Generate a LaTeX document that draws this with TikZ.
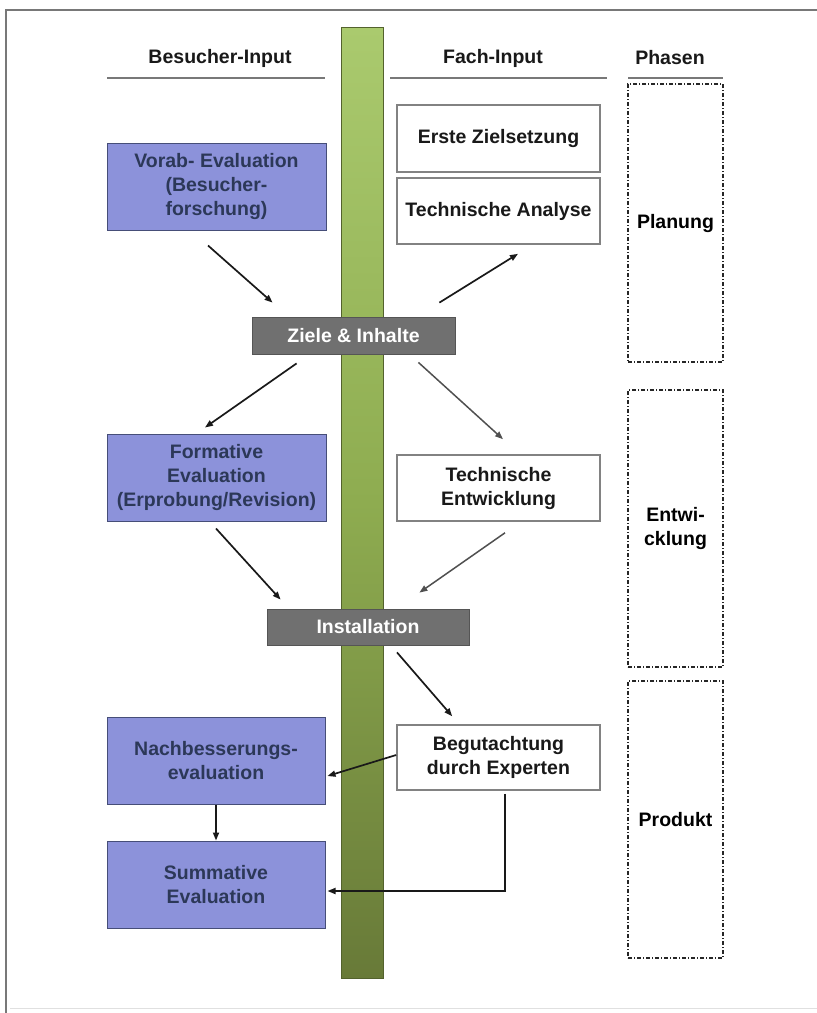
\documentclass[tikz,border=0pt]{standalone}
\usepackage{fontspec}
\setmainfont{Liberation Sans}
\usetikzlibrary{arrows.meta,calc}
\definecolor{bluefill}{RGB}{140,146,218}
\definecolor{blueline}{RGB}{70,78,120}
\definecolor{bluetext}{RGB}{44,56,88}
\definecolor{grayfill}{RGB}{112,112,112}
\definecolor{grayline}{RGB}{85,85,85}
\definecolor{rulegray}{RGB}{120,120,120}
\definecolor{boxgray}{RGB}{130,130,130}
\definecolor{arrgray}{RGB}{80,80,80}
\definecolor{greentop}{RGB}{170,202,110}
\definecolor{greenmid}{RGB}{142,172,80}
\definecolor{greenbot}{RGB}{104,122,56}
\begin{document}
\begin{tikzpicture}[x=1pt,y=-1pt,
  txt/.style={font=\bfseries\fontsize{19.5}{24}\selectfont},
  visitor/.style={txt, draw=blueline, line width=1pt, fill=bluefill, text=bluetext,
    minimum width=219pt, minimum height=87pt, align=center, inner sep=0pt},
  expert/.style={txt, draw=boxgray, line width=1.6pt, fill=white, text=black!90,
    minimum width=203pt, minimum height=66pt, align=center, inner sep=0pt},
  milestone/.style={txt, draw=grayline, line width=0.8pt, fill=grayfill, text=white,
    minimum width=203pt, minimum height=37pt, inner sep=0pt},
  phase/.style={txt, draw=black!85, line width=1.1pt,
    dash pattern=on 4pt off 2pt on 1pt off 2pt,
    minimum width=95pt, minimum height=277pt, align=center, inner sep=0pt},
  head/.style={txt, text=black!90},
  arr/.style={line width=1.7pt, black!90, -{Triangle[length=8pt,width=6pt]}},
  garr/.style={line width=1.5pt, arrgray, -{Triangle[length=8pt,width=6pt]}}
]
\useasboundingbox (0,0) rectangle (817,1013);
\fill[white] (0,0) rectangle (817,1013);

% frame
\draw[rulegray, line width=2.4pt] (5,10) -- (817,10);
\draw[rulegray, line width=1.6pt] (6,10) -- (6,1013);
\draw[black!12, line width=1pt] (10,1008) -- (817,1008);

% central green bar
\shade[top color=greentop, bottom color=greenbot, middle color=greenmid]
  (341,27) rectangle (383,978);
\draw[greenbot!80!black, line width=0.6pt] (341,27) rectangle (383,978);

% column headings
\node[head] (hvis) at (220,58) {Besucher-Input};
\node[head] (hexp) at (493,58) {Fach-Input};
\node[head] (hpha) at (670,58) {Phasen};
\draw[rulegray, line width=2pt] (107,78) -- (325,78);
\draw[rulegray, line width=2pt] (390,78) -- (607,78);
\draw[rulegray, line width=2pt] (628,78) -- (723,78);

% phases
\node[phase, minimum height=278pt] (planung) at (675.5,223) {Planung};
\node[phase] (entw) at (675.5,528.5) {Entwi-\\cklung};
\node[phase] (produkt) at (675.5,819.5) {Produkt};

% visitor input
\node[visitor] (vorab) at (216.5,186.5) {Vorab- Evaluation\\(Besucher-\\forschung)};
\node[visitor] (formativ) at (216.5,477.5) {Formative\\Evaluation\\(Erprobung/Revision)};
\node[visitor, minimum width=218pt] (nachb) at (216,760.5) {Nachbesserungs-\\evaluation};
\node[visitor, minimum width=218pt] (summ) at (216,884.5) {Summative\\Evaluation};

% expert input
\node[expert, minimum height=67pt] (erste) at (498.5,138.5) {Erste Zielsetzung};
\node[expert] (techa) at (498.5,211) {Technische Analyse};
\node[expert] (teche) at (498.5,488) {Technische\\Entwicklung};
\node[expert, minimum height=65pt] (begut) at (498.5,757.5) {Begutachtung\\durch Experten};

% milestones on the bar
\node[milestone] (ziele) at (353.5,335.5) {Ziele \& Inhalte};
\node[milestone, minimum width=202pt, minimum height=36pt] (install) at (368,627) {Installation};

% connectors
\draw[arr] ([shift={(-8.5,15)}]vorab.south) -- ([shift={(21,-14)}]ziele.north west);
\draw[arr] ([shift={(-16,-14)}]ziele.north east) -- ([shift={(19.5,9)}]techa.south);
\draw[arr] ([shift={(45,9)}]ziele.south west) -- ([shift={(-11.5,-6)}]formativ.north);
\draw[garr] ([shift={(-37,8)}]ziele.south east) -- ([shift={(4.5,-15)}]teche.north);
\draw[arr] ([shift={(-0.5,7)}]formativ.south) -- ([shift={(14,-9)}]install.north west);
\draw[garr] ([shift={(6.5,11)}]teche.south) -- ([shift={(-50,-16)}]install.north east);
\draw[arr] ([shift={(29,7)}]install.south) -- ([shift={(56,-8)}]begut.north west);
\draw[arr] ([shift={(0,-2.5)}]begut.west) -- ([shift={(2,15.5)}]nachb.east);
\draw[arr] (nachb.south) -- (summ.north);
\draw[arr] ([shift={(6.5,3)}]begut.south) |- ([shift={(2,6.5)}]summ.east);
\end{tikzpicture}
\end{document}
